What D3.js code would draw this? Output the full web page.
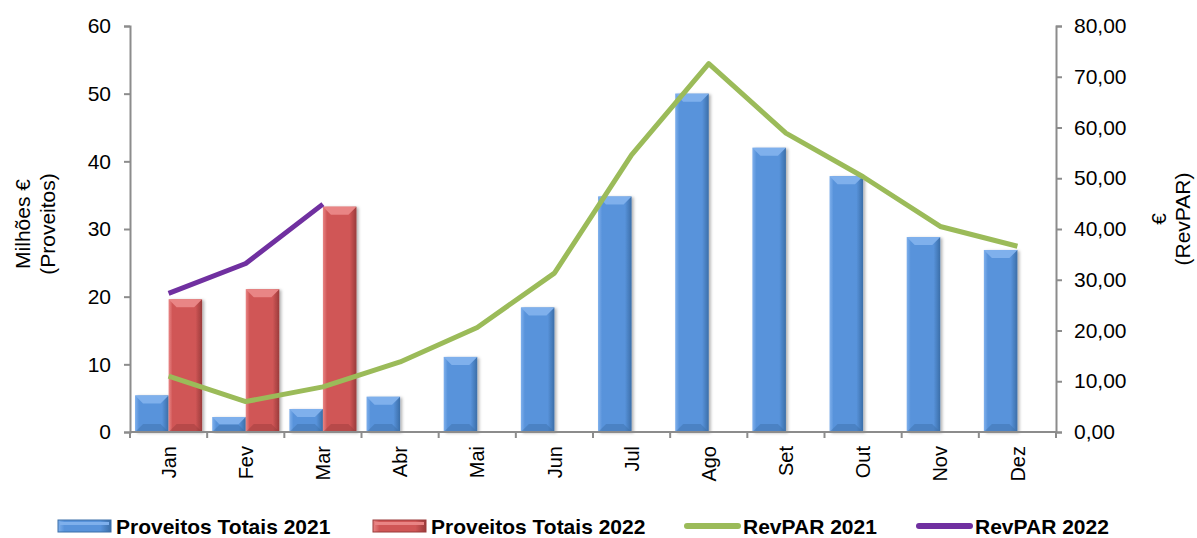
<!DOCTYPE html>
<html>
<head>
<meta charset="utf-8">
<script src="https://cdn.jsdelivr.net/npm/d3@7"></script>
<style>
  body { margin: 0; background: #fff; }
  svg { font-family: "Liberation Sans", Arial, sans-serif; }
</style>
</head>
<body>
<div id="chart"></div>
<script>
// Data
const months = ["Jan", "Fev", "Mar", "Abr", "Mai", "Jun", "Jul", "Ago", "Set", "Out", "Nov", "Dez"]
const proveitos2021 = [5.4, 2.2, 3.4, 5.2, 11.1, 18.4, 34.8, 50.0, 42.0, 37.8, 28.8, 26.9]
const proveitos2022 = [19.6, 21.1, 33.3]
const revpar2021 = [11.0, 6.0, 8.9, 13.8, 20.6, 31.3, 54.6, 72.6, 58.9, 50.3, 40.5, 36.6]
const revpar2022 = [27.3, 33.2, 44.9]
const leftTicks = [0, 10, 20, 30, 40, 50, 60]
const rightTicks = [0, 10, 20, 30, 40, 50, 60, 70, 80]
const legendItems = [
  { label: "Proveitos Totais 2021", type: "bar", key: "b21" },
  { label: "Proveitos Totais 2022", type: "bar", key: "b22" },
  { label: "RevPAR 2021", type: "line", key: "l21" },
  { label: "RevPAR 2022", type: "line", key: "l22" }
]

const width = 1197, height = 538
const plot = { left: 130, right: 1056, top: 26, bottom: 432 }
const colors = {
  b21: { base: "#5893db", light: "#7fb0ec", dark: "#3b6ea8" },
  b22: { base: "#d05656", light: "#e98585", dark: "#9a3b3b" },
  l21: "#9bbb59",
  l22: "#7030a0"
}
const axisColor = "#8c8c8c"

const svg = d3.select("#chart").append("svg")
  .attr("width", width)
  .attr("height", height)

// Gradients for the bevelled bars
const defs = svg.append("defs")
;["b21", "b22"].forEach(k => {
  const g = defs.append("linearGradient").attr("id", "grad-" + k)
    .attr("x1", "0").attr("x2", "1").attr("y1", "0").attr("y2", "0")
  g.append("stop").attr("offset", "0%").attr("stop-color", colors[k].light)
  g.append("stop").attr("offset", "12%").attr("stop-color", colors[k].base)
  g.append("stop").attr("offset", "80%").attr("stop-color", colors[k].base)
  g.append("stop").attr("offset", "100%").attr("stop-color", colors[k].dark)
})
const shadow = defs.append("filter").attr("id", "shadow")
  .attr("x", "-20%").attr("y", "-10%").attr("width", "150%").attr("height", "120%")
shadow.append("feDropShadow").attr("dx", 2).attr("dy", 1).attr("stdDeviation", 1.5)
  .attr("flood-color", "#000").attr("flood-opacity", 0.3)

// Scales
const x = d3.scaleBand().domain(months).range([plot.left, plot.right])
const xSub = d3.scaleBand().domain(["b21", "b22"]).range([0, x.bandwidth()]).paddingOuter(0.15)
const yLeft = d3.scaleLinear().domain([0, 60]).range([plot.bottom, plot.top])
const yRight = d3.scaleLinear().domain([0, 80]).range([plot.bottom, plot.top])

// Bars
function drawBars(values, key) {
  const bw = xSub.bandwidth()
  const bev = 8
  const g = svg.append("g")
  values.forEach((v, i) => {
    const x0 = x(months[i]) + xSub(key)
    const y0 = yLeft(v)
    const h = plot.bottom - y0
    const b = Math.min(bev, h / 2)
    const bar = g.append("g").attr("filter", "url(#shadow)")
    bar.append("rect")
      .attr("x", x0).attr("y", y0)
      .attr("width", bw).attr("height", h)
      .attr("fill", `url(#grad-${key})`)
    // top chamfer
    bar.append("path")
      .attr("d", `M${x0},${y0}L${x0 + bw},${y0}L${x0 + bw - b},${y0 + b}L${x0 + b},${y0 + b}Z`)
      .attr("fill", colors[key].light)
    // bottom chamfer
    bar.append("path")
      .attr("d", `M${x0},${plot.bottom}L${x0 + b},${plot.bottom - b}L${x0 + bw - b},${plot.bottom - b}L${x0 + bw},${plot.bottom}Z`)
      .attr("fill", colors[key].dark).attr("opacity", 0.45)
  })
}
drawBars(proveitos2021, "b21")
drawBars(proveitos2022, "b22")

// Axes
const leftAxis = svg.append("g")
  .attr("transform", `translate(${plot.left},0)`)
  .call(d3.axisLeft(yLeft).tickValues(leftTicks).tickSize(6).tickPadding(13).tickFormat(d3.format("d")))
const rightAxis = svg.append("g")
  .attr("transform", `translate(${plot.right},0)`)
  .call(d3.axisRight(yRight).tickValues(rightTicks).tickSize(6).tickPadding(12)
    .tickFormat(d => d3.format(".2f")(d).replace(".", ",")))
const bottomAxis = svg.append("g")
  .attr("transform", `translate(0,${plot.bottom})`)
  .call(d3.axisBottom(x).tickSize(0).tickFormat(""))

bottomAxis.selectAll(".tick").remove()
bottomAxis.selectAll(".boundary")
  .data(d3.range(months.length + 1))
  .join("line")
  .attr("x1", i => plot.left + i * x.step())
  .attr("x2", i => plot.left + i * x.step())
  .attr("y1", 0).attr("y2", 6)
  .attr("stroke", axisColor).attr("stroke-width", 2)

;[leftAxis, rightAxis, bottomAxis].forEach(a => {
  a.select(".domain").attr("stroke", axisColor).attr("stroke-width", 2)
  a.selectAll(".tick line").attr("stroke", axisColor).attr("stroke-width", 2)
  a.selectAll(".tick text").attr("font-size", 21).attr("fill", "#000")
    .attr("font-family", "'Liberation Sans', Arial, sans-serif")
})
bottomAxis.select(".domain").attr("d", `M${plot.left},0H${plot.right}`)

// Month labels
svg.append("g").selectAll("text")
  .data(months)
  .join("text")
  .attr("transform", d => `translate(${x(d) + x.bandwidth() / 2},${plot.bottom + 14}) rotate(-90)`)
  .attr("text-anchor", "end")
  .attr("dy", "0.36em")
  .attr("font-size", 20)
  .text(d => d)

// Lines
const lineGen = d3.line()
  .x((d, i) => x(months[i]) + x.bandwidth() / 2)
  .y(d => yRight(d))
svg.append("path").datum(revpar2021)
  .attr("fill", "none").attr("stroke", colors.l21).attr("stroke-width", 5)
  .attr("stroke-linejoin", "round").attr("d", lineGen)
svg.append("path").datum(revpar2022)
  .attr("fill", "none").attr("stroke", colors.l22).attr("stroke-width", 5)
  .attr("stroke-linejoin", "round").attr("d", lineGen)

// Axis titles
const leftTitle = svg.append("text")
  .attr("transform", "translate(35,224) rotate(-90)")
  .attr("text-anchor", "middle").attr("font-size", 21)
leftTitle.append("tspan").attr("x", 0).attr("dy", "-0.22em").text("Milhões €")
leftTitle.append("tspan").attr("x", 0).attr("dy", "1.15em").text("(Proveitos)")

const rightTitle = svg.append("text")
  .attr("transform", "translate(1171,219) rotate(-90)")
  .attr("text-anchor", "middle").attr("font-size", 21)
rightTitle.append("tspan").attr("x", 0).attr("dy", "-0.22em").text("€")
rightTitle.append("tspan").attr("x", 0).attr("dy", "1.12em").text("(RevPAR)")

// Legend
const legendX = [58, 373, 685, 917]
const legend = svg.append("g").attr("transform", "translate(0,526)")
legendItems.forEach((item, i) => {
  const g = legend.append("g").attr("transform", `translate(${legendX[i]},0)`)
  if (item.type === "bar") {
    g.append("rect").attr("x", 0).attr("y", -6).attr("width", 53).attr("height", 12)
      .attr("fill", `url(#grad-${item.key})`)
      .attr("stroke", colors[item.key].dark).attr("stroke-width", 1)
    g.append("rect").attr("x", 2).attr("y", -4).attr("width", 49).attr("height", 3)
      .attr("fill", colors[item.key].light)
  } else {
    g.append("line").attr("x1", 2).attr("x2", 53).attr("y1", 0).attr("y2", 0)
      .attr("stroke", colors[item.key]).attr("stroke-width", 6).attr("stroke-linecap", "round")
  }
  g.append("text").attr("x", 58).attr("dy", "0.36em")
    .attr("font-size", 21).attr("font-weight", "bold")
    .text(item.label)
})
</script>
</body>
</html>
